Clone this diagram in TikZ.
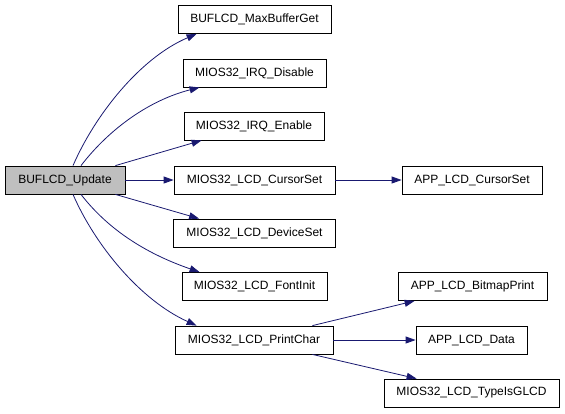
\documentclass[tikz,border=0pt]{standalone}
\usepackage{fontspec}
\setmainfont{Liberation Sans}
\usetikzlibrary{arrows.meta}
\definecolor{edgeblue}{RGB}{25,25,112}
\definecolor{rootgray}{RGB}{191,191,191}
\begin{document}
\begin{tikzpicture}[x=1bp,y=-1bp,
  fn/.style={draw=black, fill=white, line width=0.8bp, inner sep=0pt, minimum height=28bp, font=\fontsize{12bp}{14bp}\selectfont},
  call/.style={draw=edgeblue, line width=0.8bp, -{Triangle[length=10bp,width=7bp]}}]
\useasboundingbox (0,0) rectangle (565,413);
\node[fn, fill=rootgray, minimum width=120bp] (upd) at (65,180) {BUFLCD\_Update};
\node[fn, minimum width=153bp] (maxbuf) at (254.5,19.5) {BUFLCD\_MaxBufferGet};
\node[fn, minimum width=143bp] (irqd) at (254.5,73) {MIOS32\_IRQ\_Disable};
\node[fn, minimum width=140bp] (irqe) at (254,126) {MIOS32\_IRQ\_Enable};
\node[fn, minimum width=161bp] (curs) at (254.5,180) {MIOS32\_LCD\_CursorSet};
\node[fn, minimum width=162bp] (dev) at (254.5,233) {MIOS32\_LCD\_DeviceSet};
\node[fn, minimum width=145bp] (font) at (254.5,286.5) {MIOS32\_LCD\_FontInit};
\node[fn, minimum width=158bp] (pchar) at (254,340) {MIOS32\_LCD\_PrintChar};
\node[fn, minimum width=140bp] (appcurs) at (472,180) {APP\_LCD\_CursorSet};
\node[fn, minimum width=149bp] (bmp) at (472.5,286.5) {APP\_LCD\_BitmapPrint};
\node[fn, minimum width=111bp] (data) at (471.5,340) {APP\_LCD\_Data};
\node[fn, minimum width=175bp] (glcd) at (471.5,393) {MIOS32\_LCD\_TypeIsGLCD};
\draw[call] ([xshift=8bp]upd.north) .. controls (95,115) and (140,58) .. ([xshift=19bp]maxbuf.south west);
\draw[call] ([xshift=16bp]upd.north) .. controls (110,128) and (150,100) .. ([xshift=17bp]irqd.south west);
\draw[call] ([xshift=-10bp]upd.north east) -- ([xshift=18bp]irqe.south west);
\draw[call] (upd.east) -- (curs.west);
\draw[call] ([xshift=-10bp]upd.south east) -- ([xshift=26bp]dev.north west);
\draw[call] ([xshift=16bp]upd.south) .. controls (110,232) and (150,255) .. ([xshift=18bp]font.north west);
\draw[call] ([xshift=8bp]upd.south) .. controls (95,245) and (140,300) .. ([xshift=22bp]pchar.north west);
\draw[call] (curs.east) -- (appcurs.west);
\draw[call] ([xshift=-21bp]pchar.north east) -- ([xshift=17bp]bmp.south west);
\draw[call] (pchar.east) -- (data.west);
\draw[call] ([xshift=-21bp]pchar.south east) -- ([xshift=33bp]glcd.north west);
\end{tikzpicture}
\end{document}
